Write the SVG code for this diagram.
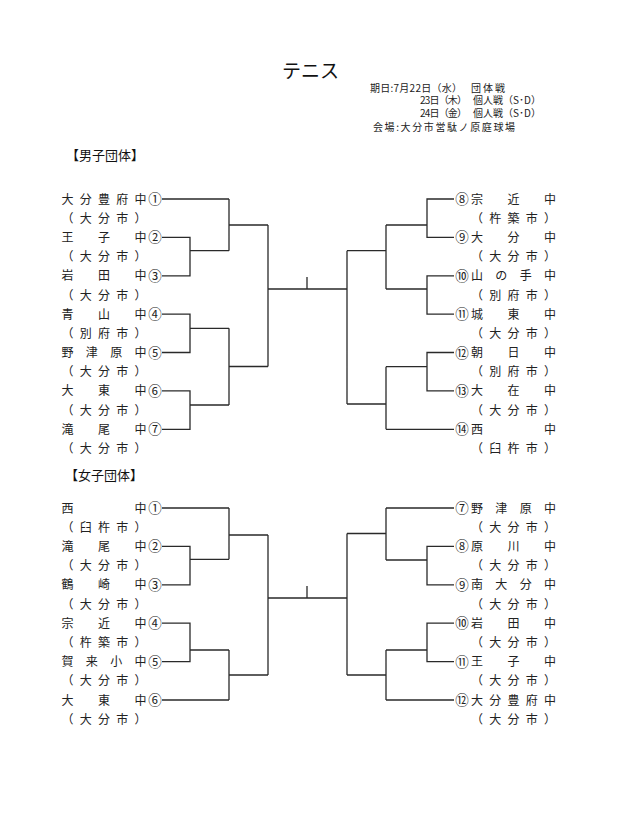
<svg xmlns="http://www.w3.org/2000/svg" width="640" height="838" viewBox="0 0 640 838">
<style>
.bg{fill:#fff}
.t{font-family:"Noto Sans CJK JP","Noto Sans CJK SC",sans-serif;font-size:12px;fill:#222;text-anchor:middle}
.n{font-family:"Noto Sans CJK JP","Noto Sans CJK SC",sans-serif;font-size:13.5px;fill:#222;text-anchor:middle}
.h{font-family:"Noto Sans CJK JP",sans-serif;font-size:13px;fill:#111}
.i{font-family:"Noto Sans CJK JP",sans-serif;font-size:10px;fill:#222}
.ttl{font-family:"Noto Sans CJK JP",sans-serif;font-size:19px;fill:#111}
.ln{fill:none;stroke:#2a2a2a;stroke-width:1.3}
</style>
<rect class="bg" x="0" y="0" width="640" height="838"/>
<g id="header">
<text class="ttl" x="282" y="77.5">テニス</text>
<text class="i" x="370" y="91.5" textLength="92">期日:7月22日（水）</text>
<text class="i" x="471" y="91.5" textLength="34">団体戦</text>
<text class="i" x="420" y="104.3" textLength="47">23日（木）</text>
<text class="i" x="473" y="104.3" textLength="68">個人戦（S･D）</text>
<text class="i" x="420" y="117" textLength="47">24日（金）</text>
<text class="i" x="473" y="117" textLength="68">個人戦（S･D）</text>
<text class="i" x="373" y="130.5" textLength="142">会場:大分市営駄ノ原庭球場</text>
</g>
<text id="sec-boys" class="h" x="66" y="159.7">【男子団体】</text>
<text id="sec-girls" class="h" x="65" y="479.7">【女子団体】</text>

<g id="connectors">
<path class="ln" d="M162 199 H229 M162 237.4 H190 V275.8 H162 M190 250.7 H229 M229 199 V250.7 M229 225 H268"/>
<path class="ln" d="M162 314.1 H190 V352.5 H162 M190 328.3 H229 M162 390.9 H190 V429.3 H162 M190 405 H229 M229 328.3 V405 M229 366.5 H268"/>
<path class="ln" d="M268 225 V366.5 M268 289 H347 M307 277 V289"/>
<path class="ln" d="M454 199 H427 V237.4 H454 M427 225 H386 M454 275.8 H427 V314.1 H454 M427 289 H386 M386 225 V289 M386 250.7 H347"/>
<path class="ln" d="M454 352.5 H427 V390.9 H454 M427 366.7 H386 M454 429.3 H386 M386 366.7 V429.3 M386 404 H347 M347 250.7 V404"/>
<path class="ln" d="M162 508 H229 M162 546.4 H190 V584.8 H162 M190 559.3 H229 M229 508 V559.3 M229 535 H268"/>
<path class="ln" d="M162 623.2 H190 V661.6 H162 M190 650 H229 M162 700 H229 M229 650 V700 M229 675 H268"/>
<path class="ln" d="M268 535 V675 M268 598 H347 M307 586 V598"/>
<path class="ln" d="M454 508 H386 M454 546.4 H427 V584.8 H454 M427 560 H386 M386 508 V560 M386 533.5 H347"/>
<path class="ln" d="M454 623.2 H427 V661.6 H454 M427 650 H386 M454 700 H386 M386 650 V700 M386 675 H347 M347 533.5 V675"/>
</g>

<g id="b1"><text class="t" x="67.5 85.75 104 122.25 140.5" y="203.5">大分豊府中</text><text class="n" x="155" y="204">①</text><text class="t" x="67.5 85.75 104 122.25 140.5" y="222.7">（大分市）</text></g>
<g id="b2"><text class="t" x="67.5 104 140.5" y="241.9">王子中</text><text class="n" x="155" y="242.4">②</text><text class="t" x="67.5 85.75 104 122.25 140.5" y="261.1">（大分市）</text></g>
<g id="b3"><text class="t" x="67.5 104 140.5" y="280.3">岩田中</text><text class="n" x="155" y="280.8">③</text><text class="t" x="67.5 85.75 104 122.25 140.5" y="299.5">（大分市）</text></g>
<g id="b4"><text class="t" x="67.5 104 140.5" y="318.6">青山中</text><text class="n" x="155" y="319.1">④</text><text class="t" x="67.5 85.75 104 122.25 140.5" y="337.8">（別府市）</text></g>
<g id="b5"><text class="t" x="67.5 91.8 116.2 140.5" y="357">野津原中</text><text class="n" x="155" y="357.5">⑤</text><text class="t" x="67.5 85.75 104 122.25 140.5" y="376.2">（大分市）</text></g>
<g id="b6"><text class="t" x="67.5 104 140.5" y="395.4">大東中</text><text class="n" x="155" y="395.9">⑥</text><text class="t" x="67.5 85.75 104 122.25 140.5" y="414.6">（大分市）</text></g>
<g id="b7"><text class="t" x="67.5 104 140.5" y="433.8">滝尾中</text><text class="n" x="155" y="434.3">⑦</text><text class="t" x="67.5 85.75 104 122.25 140.5" y="453">（大分市）</text></g>

<g id="b8"><text class="n" x="462" y="204">⑧</text><text class="t" x="477 513.5 550" y="203.5">宗近中</text><text class="t" x="477 495.25 513.5 531.75 550" y="222.7">（杵築市）</text></g>
<g id="b9"><text class="n" x="462" y="242.4">⑨</text><text class="t" x="477 513.5 550" y="241.9">大分中</text><text class="t" x="477 495.25 513.5 531.75 550" y="261.1">（大分市）</text></g>
<g id="b10"><text class="n" x="462" y="280.8">⑩</text><text class="t" x="477 501.3 525.7 550" y="280.3">山の手中</text><text class="t" x="477 495.25 513.5 531.75 550" y="299.5">（別府市）</text></g>
<g id="b11"><text class="n" x="462" y="319.1">⑪</text><text class="t" x="477 513.5 550" y="318.6">城東中</text><text class="t" x="477 495.25 513.5 531.75 550" y="337.8">（大分市）</text></g>
<g id="b12"><text class="n" x="462" y="357.5">⑫</text><text class="t" x="477 513.5 550" y="357">朝日中</text><text class="t" x="477 495.25 513.5 531.75 550" y="376.2">（別府市）</text></g>
<g id="b13"><text class="n" x="462" y="395.9">⑬</text><text class="t" x="477 513.5 550" y="395.4">大在中</text><text class="t" x="477 495.25 513.5 531.75 550" y="414.6">（大分市）</text></g>
<g id="b14"><text class="n" x="462" y="434.3">⑭</text><text class="t" x="477 550" y="433.8">西中</text><text class="t" x="477 495.25 513.5 531.75 550" y="453">（臼杵市）</text></g>

<g id="g1"><text class="t" x="67.5 140.5" y="512.5">西中</text><text class="n" x="155" y="513">①</text><text class="t" x="67.5 85.75 104 122.25 140.5" y="531.7">（臼杵市）</text></g>
<g id="g2"><text class="t" x="67.5 104 140.5" y="550.9">滝尾中</text><text class="n" x="155" y="551.4">②</text><text class="t" x="67.5 85.75 104 122.25 140.5" y="570.1">（大分市）</text></g>
<g id="g3"><text class="t" x="67.5 104 140.5" y="589.3">鶴崎中</text><text class="n" x="155" y="589.8">③</text><text class="t" x="67.5 85.75 104 122.25 140.5" y="608.5">（大分市）</text></g>
<g id="g4"><text class="t" x="67.5 104 140.5" y="627.7">宗近中</text><text class="n" x="155" y="628.2">④</text><text class="t" x="67.5 85.75 104 122.25 140.5" y="646.9">（杵築市）</text></g>
<g id="g5"><text class="t" x="67.5 91.8 116.2 140.5" y="666.1">賀来小中</text><text class="n" x="155" y="666.6">⑤</text><text class="t" x="67.5 85.75 104 122.25 140.5" y="685.3">（大分市）</text></g>
<g id="g6"><text class="t" x="67.5 104 140.5" y="704.5">大東中</text><text class="n" x="155" y="705">⑥</text><text class="t" x="67.5 85.75 104 122.25 140.5" y="723.7">（大分市）</text></g>

<g id="g7"><text class="n" x="462" y="513">⑦</text><text class="t" x="477 501.3 525.7 550" y="512.5">野津原中</text><text class="t" x="477 495.25 513.5 531.75 550" y="531.7">（大分市）</text></g>
<g id="g8"><text class="n" x="462" y="551.4">⑧</text><text class="t" x="477 513.5 550" y="550.9">原川中</text><text class="t" x="477 495.25 513.5 531.75 550" y="570.1">（大分市）</text></g>
<g id="g9"><text class="n" x="462" y="589.8">⑨</text><text class="t" x="477 501.3 525.7 550" y="589.3">南大分中</text><text class="t" x="477 495.25 513.5 531.75 550" y="608.5">（大分市）</text></g>
<g id="g10"><text class="n" x="462" y="628.2">⑩</text><text class="t" x="477 513.5 550" y="627.7">岩田中</text><text class="t" x="477 495.25 513.5 531.75 550" y="646.9">（大分市）</text></g>
<g id="g11"><text class="n" x="462" y="666.6">⑪</text><text class="t" x="477 513.5 550" y="666.1">王子中</text><text class="t" x="477 495.25 513.5 531.75 550" y="685.3">（大分市）</text></g>
<g id="g12"><text class="n" x="462" y="705">⑫</text><text class="t" x="477 495.25 513.5 531.75 550" y="704.5">大分豊府中</text><text class="t" x="477 495.25 513.5 531.75 550" y="723.7">（大分市）</text></g>
</svg>
